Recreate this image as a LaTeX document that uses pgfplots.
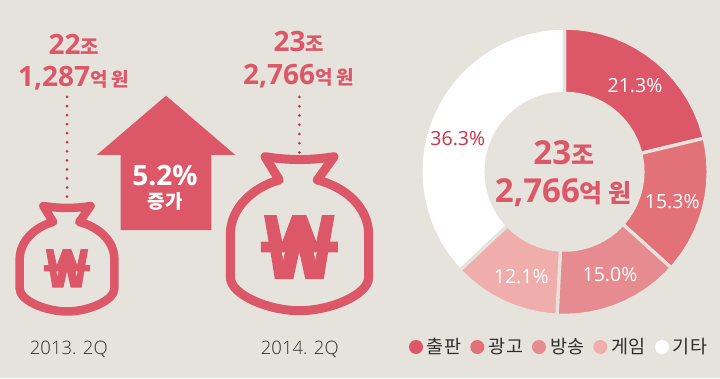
\documentclass[border=0pt]{standalone}
\usepackage{fontspec}
\usepackage{pgfplots}
\pgfplotsset{compat=1.18}
\setmainfont{Open Sans}
\newfontfamily\kr{Noto Sans CJK KR}
\newfontfamily\ol{Open Sans Light}
\definecolor{bg}{HTML}{E6E3DC}
\definecolor{main}{HTML}{DC5868}
\definecolor{sa}{HTML}{DC5868}
\definecolor{sb}{HTML}{E27178}
\definecolor{sc}{HTML}{E68C90}
\definecolor{sd}{HTML}{EFAEAC}
\definecolor{crim}{HTML}{C8324B}
\definecolor{txt}{HTML}{2E2E2E}
\newcommand{\fs}[1]{\fontsize{#1}{#1}\selectfont}
\newcommand{\bagpath}[1]{%
  \draw[main,line width=#1,line join=round,line cap=round]
   (-34.5,-153.3) .. controls (-9.5,-149.5) and (10.5,-149.5) .. (34.5,-153.3)
   -- (17.8,-130)
   .. controls (45.5,-123) and (69.2,-103) .. (69.2,-75)
   -- (69.2,-33)
   .. controls (69.2,-15) and (30.5,0.7) .. (0,0.7)
   .. controls (-30.5,0.7) and (-69.2,-15) .. (-69.2,-33)
   -- (-69.2,-75)
   .. controls (-69.2,-103) and (-45.5,-123) .. (-20.2,-130)
   -- cycle;}
\newcommand{\wonpath}{%
  \fill[main] (-35.3,-32) -- (-22.7,-32) -- (-17,-5.3) -- (-7,-32) -- (7,-32)
   -- (17,-5.3) -- (22.7,-32) -- (35.3,-32) -- (30.7,-5.3) -- (38.5,-5.3) -- (38.5,5.3) -- (28.8,5.3)
   -- (24.5,32) -- (6,32) -- (0,4.7) -- (-6,32) -- (-24.5,32) -- (-28.8,5.3)
   -- (-38.5,5.3) -- (-38.5,-5.3) -- (-30.7,-5.3) -- cycle;
  \fill[bg] (-17.5,5.3) -- (-14.5,5.3) -- (-16,13) -- cycle;
  \fill[bg] (14.5,5.3) -- (17.5,5.3) -- (16,13) -- cycle;}
\begin{document}
\begin{tikzpicture}
\fill[bg] (0,0) rectangle (720pt,378pt);
\begin{axis}[at={(564.5pt,206.3pt)},anchor=center,scale only axis,width=300pt,height=300pt,
  xmin=-150,xmax=150,ymin=-150,ymax=150,hide axis,clip=false]
\addplot[data cs=polar,fill=sa,draw=bg,line width=3.3pt] coordinates {
(90,143.7)(85,143.7)(80,143.7)(75,143.7)(70,143.7)(65,143.7)(60,143.7)(55,143.7)(50,143.7)(45,143.7)(40,143.7)(35,143.7)(30,143.7)(25,143.7)(20,143.7)(15,143.7)(13.5,143.7)
(13.5,78.4)(15,78.4)(20,78.4)(25,78.4)(30,78.4)(35,78.4)(40,78.4)(45,78.4)(50,78.4)(55,78.4)(60,78.4)(65,78.4)(70,78.4)(75,78.4)(80,78.4)(85,78.4)(90,78.4)} --cycle;
\addplot[data cs=polar,fill=sb,draw=bg,line width=3.3pt] coordinates {
(13.5,143.7)(10,143.7)(5,143.7)(0,143.7)(-5,143.7)(-10,143.7)(-15,143.7)(-20,143.7)(-25,143.7)(-30,143.7)(-35,143.7)(-40,143.7)(-42,143.7)
(-42,78.4)(-40,78.4)(-35,78.4)(-30,78.4)(-25,78.4)(-20,78.4)(-15,78.4)(-10,78.4)(-5,78.4)(0,78.4)(5,78.4)(10,78.4)(13.5,78.4)} --cycle;
\addplot[data cs=polar,fill=sc,draw=bg,line width=3.3pt] coordinates {
(-42,143.7)(-45,143.7)(-50,143.7)(-55,143.7)(-60,143.7)(-65,143.7)(-70,143.7)(-75,143.7)(-80,143.7)(-85,143.7)(-90,143.7)(-93,143.7)
(-93,78.4)(-90,78.4)(-85,78.4)(-80,78.4)(-75,78.4)(-70,78.4)(-65,78.4)(-60,78.4)(-55,78.4)(-50,78.4)(-45,78.4)(-42,78.4)} --cycle;
\addplot[data cs=polar,fill=sd,draw=bg,line width=3.3pt] coordinates {
(-93,143.7)(-95,143.7)(-100,143.7)(-105,143.7)(-110,143.7)(-115,143.7)(-120,143.7)(-125,143.7)(-130,143.7)(-135,143.7)(-136.7,143.7)
(-136.7,78.4)(-135,78.4)(-130,78.4)(-125,78.4)(-120,78.4)(-115,78.4)(-110,78.4)(-105,78.4)(-100,78.4)(-95,78.4)(-93,78.4)} --cycle;
\addplot[data cs=polar,fill=white,draw=bg,line width=3.3pt] coordinates {
(-136.7,143.7)(-140,143.7)(-145,143.7)(-150,143.7)(-155,143.7)(-160,143.7)(-165,143.7)(-170,143.7)(-175,143.7)(-180,143.7)(-185,143.7)(-190,143.7)(-195,143.7)(-200,143.7)(-205,143.7)(-210,143.7)(-215,143.7)(-220,143.7)(-225,143.7)(-230,143.7)(-235,143.7)(-240,143.7)(-245,143.7)(-250,143.7)(-255,143.7)(-260,143.7)(-265,143.7)(-270,143.7)
(-270,78.4)(-265,78.4)(-260,78.4)(-255,78.4)(-250,78.4)(-245,78.4)(-240,78.4)(-235,78.4)(-230,78.4)(-225,78.4)(-220,78.4)(-215,78.4)(-210,78.4)(-205,78.4)(-200,78.4)(-195,78.4)(-190,78.4)(-185,78.4)(-180,78.4)(-175,78.4)(-170,78.4)(-165,78.4)(-160,78.4)(-155,78.4)(-150,78.4)(-145,78.4)(-140,78.4)(-136.7,78.4)} --cycle;
\end{axis}
\begin{scope}[x=1pt,y=-1pt,yshift=378pt,every node/.style={inner sep=0pt,anchor=base}]
% arrow
\fill[main] (166,95.7) -- (235.3,155) -- (211.3,155) -- (211.3,230) -- (120.7,230) -- (120.7,155) -- (96.7,155) -- cycle;
\node[white] at (165,185.5) {\fs{28}\bfseries 5.2\%};
\node[white] at (165,209) {\kr\fs{19}\bfseries 증가};
% bags
\begin{scope}[shift={(299.5,310)}]\bagpath{9pt}\end{scope}
\begin{scope}[shift={(299.3,247)}]\wonpath\end{scope}
\begin{scope}[shift={(67,311)},scale=.685]\bagpath{8.5pt}\end{scope}
\begin{scope}[shift={(67,268.3)},scale=.6]\wonpath\end{scope}
% dots
\draw[crim,line width=3pt,line cap=round,dash pattern=on 0pt off 9.05pt] (67,97) -- (67,202);
\draw[crim,line width=3pt,line cap=round,dash pattern=on 0pt off 9.25pt] (299.3,97) -- (299.3,153);
% amounts
\node[main] at (73.7,55) {\fs{28}\bfseries 22\kr\fs{20}\bfseries 조};
\node[main] at (73.8,87) {\fs{28}\bfseries 1,287\kr\fs{19}\bfseries 억 원};
\node[main] at (298.8,51.7) {\fs{28}\bfseries 23\kr\fs{20}\bfseries 조};
\node[main] at (298.7,84.3) {\fs{28}\bfseries 2,766\kr\fs{19}\bfseries 억 원};
\node[main] at (563.8,165) {\fs{33}\bfseries 23\kr\fs{25}\bfseries 조};
\node[main] at (563.3,202.7) {\fs{33}\bfseries 2,766\kr\fs{25}\bfseries 억 원};
% years
\node[txt] at (68.8,354) {\ol\fs{18.5}2013. 2Q};
\node[txt] at (299.8,354) {\ol\fs{18.5}2014. 2Q};
% percents
\node[white] at (635,92.3) {\fs{19.5}21.3\%};
\node[white] at (672.2,208.3) {\fs{19.5}15.3\%};
\node[white] at (610,281.7) {\fs{19.5}15.0\%};
\node[white] at (521.2,283.3) {\fs{19.5}12.1\%};
\node[crim] at (457.8,145.7) {\fs{19.5}36.3\%};
% legend
\fill[sa] (416,347) circle[radius=7pt];
\fill[sb] (477.3,347) circle[radius=7pt];
\fill[sc] (539,347) circle[radius=7pt];
\fill[sd] (600.3,347) circle[radius=7pt];
\fill[white] (662,347) circle[radius=7pt];
\node[txt] at (444,353) {\kr\fs{18.5}출판};
\node[txt] at (506,353) {\kr\fs{18.5}광고};
\node[txt] at (567.5,353) {\kr\fs{18.5}방송};
\node[txt] at (628.5,353) {\kr\fs{18.5}게임};
\node[txt] at (690,353) {\kr\fs{18.5}기타};
\end{scope}
\end{tikzpicture}
\end{document}
